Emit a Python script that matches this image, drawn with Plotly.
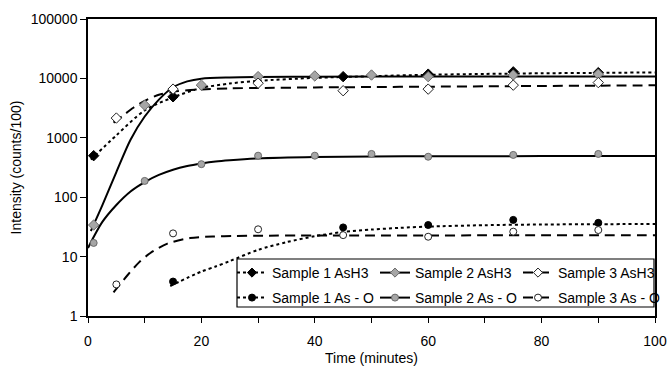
import plotly.graph_objects as go

# ---------------- data ----------------
# measured points
s1_h_t = [1, 15, 45, 60, 75, 90]
s1_h_v = [500, 4900, 10700, 11800, 12900, 12500]

s2_h_t = [1, 10, 20, 30, 40, 50, 60, 75, 90]
s2_h_v = [34, 3550, 7700, 10700, 11000, 11400, 10700, 11400, 11800]

s3_h_t = [5, 15, 30, 45, 60, 75, 90]
s3_h_v = [2150, 6600, 8300, 6200, 6600, 7700, 8500]

s1_o_t = [15, 45, 60, 75, 90]
s1_o_v = [3.8, 31, 34, 41.5, 37]

s2_o_t = [1, 10, 20, 30, 40, 50, 60, 75, 90]
s2_o_v = [17, 188, 360, 500, 500, 535, 480, 515, 535]

s3_o_t = [5, 15, 30, 45, 60, 75, 90]
s3_o_v = [3.4, 24.6, 28.8, 23, 21.6, 26.3, 28]

# fitted curves
f1_h_t = [0.5, 5, 10, 15, 20, 25, 30, 40, 50, 60, 70, 80, 90, 100]
f1_h_v = [430, 1100, 2900, 4800, 6900, 8200, 9100, 10200, 10900, 11500, 11900, 12200, 12400, 12600]

f2_h_t = [0.5, 2.5, 5, 7.5, 10, 12.5, 15, 17.5, 20, 25, 30, 40, 60, 80, 100]
f2_h_v = [27, 72, 265, 930, 2280, 4400, 7100, 8900, 9900, 10400, 10600, 10700, 10750, 10800, 10800]

f3_h_t = [4.5, 6, 8, 10, 12.5, 15, 17.5, 20, 25, 30, 40, 50, 60, 70, 80, 90, 100]
f3_h_v = [1800, 2300, 3200, 4200, 5300, 5950, 6300, 6500, 6800, 6900, 7050, 7150, 7250, 7350, 7450, 7550, 7650]

f1_o_t = [14.5, 20, 22.5, 25, 30, 35, 40, 45, 50, 55, 60, 70, 80, 90, 100]
f1_o_v = [3.2, 5.6, 6.8, 8.4, 13, 17.5, 22, 26, 28.5, 30.5, 32, 33.8, 34.7, 35.1, 35.4]

f2_o_t = [0, 2.5, 5, 7.5, 10, 12.5, 15, 17.5, 20, 22.5, 25, 30, 40, 50, 60, 80, 100]
f2_o_v = [14, 38, 74, 125, 180, 237, 290, 335, 370, 400, 420, 450, 475, 485, 488, 492, 495]

f3_o_t = [4.5, 7, 9, 11, 14, 18, 22, 26, 30, 40, 50, 60, 70, 80, 90, 100]
f3_o_v = [2.5, 4.9, 8.0, 11.5, 16.5, 20.5, 21.8, 22.3, 22.5, 22.6, 22.7, 22.7, 22.8, 22.8, 22.8, 22.8]

labels = ["Sample 1 AsH3", "Sample 2 AsH3", "Sample 3 AsH3",
          "Sample 1 As - O", "Sample 2 As - O", "Sample 3 As - O"]

x_tickvals = [0, 10, 20, 30, 40, 50, 60, 70, 80, 90, 100]
x_ticktext = ["0", "", "20", "", "40", "", "60", "", "80", "", "100"]
y_tickvals = [1, 10, 100, 1000, 10000, 100000]
y_ticktext = ["1", "10", "100", "1000", "10000", "100000"]

# ---------------- styles ----------------
DOT = "dot"
DASH = "10px,6px"
SOLID = "solid"
GRAY = "#a6a6a6"
GRAY_EDGE = "#6a6a6a"

series = [
    (s1_h_t, s1_h_v, f1_h_t, f1_h_v, DOT, "diamond", "black", "black", labels[0], "legend"),
    (s2_h_t, s2_h_v, f2_h_t, f2_h_v, SOLID, "diamond", GRAY, GRAY_EDGE, labels[1], "legend"),
    (s3_h_t, s3_h_v, f3_h_t, f3_h_v, DASH, "diamond", "white", "#222", labels[2], "legend"),
    (s1_o_t, s1_o_v, f1_o_t, f1_o_v, DOT, "circle", "black", "black", labels[3], "legend2"),
    (s2_o_t, s2_o_v, f2_o_t, f2_o_v, SOLID, "circle", GRAY, GRAY_EDGE, labels[4], "legend2"),
    (s3_o_t, s3_o_v, f3_o_t, f3_o_v, DASH, "circle", "white", "#222", labels[5], "legend2"),
]

fig = go.Figure()

# fitted curves
for mt, mv, ft, fv, dash, sym, fill, edge, lab, leg in series:
    fig.add_trace(go.Scatter(
        x=ft, y=fv, mode="lines", showlegend=False, hoverinfo="skip",
        line=dict(color="black", width=2, dash=dash, shape="spline", smoothing=0.8)))

# measured points
for mt, mv, ft, fv, dash, sym, fill, edge, lab, leg in series:
    size = 8 if sym == "diamond" else 7
    fig.add_trace(go.Scatter(
        x=mt, y=mv, mode="markers", showlegend=False, name=lab,
        marker=dict(symbol=sym, size=size, color=fill, line=dict(color=edge, width=1))))

# legend entries (line + marker)
for mt, mv, ft, fv, dash, sym, fill, edge, lab, leg in series:
    fig.add_trace(go.Scatter(
        x=[None], y=[None], mode="lines+markers", name=lab, legend=leg,
        line=dict(color="black", width=2, dash=dash),
        marker=dict(symbol=sym, size=7, color=fill, line=dict(color=edge, width=1))))

FONT = "Liberation Sans, Arial, sans-serif"

# plot area in px: x 88..655, y 19..316
PL, PR, PT, PB = 88, 655, 19, 316
W, H = 669, 368

def px2paper_x(px):
    return (px - PL) / (PR - PL)

def px2paper_y(py):
    return (PB - py) / (PB - PT)

legend_common = dict(
    orientation="h", xanchor="left", yanchor="top",
    bgcolor="rgba(0,0,0,0)", borderwidth=0,
    entrywidth=98, entrywidthmode="pixels", font=dict(size=14),
    itemwidth=30, tracegroupgap=0,
)

fig.update_layout(
    width=W, height=H,
    margin=dict(l=PL, r=W - PR, t=PT, b=H - PB, autoexpand=False),
    paper_bgcolor="white", plot_bgcolor="white",
    font=dict(family=FONT, size=14, color="black"),
    xaxis=dict(
        range=[0, 100], tickvals=x_tickvals, ticktext=x_ticktext,
        ticks="outside", ticklen=5, tickwidth=1, tickcolor="black",
        showline=True, linecolor="black", linewidth=1.5, mirror=True,
        showgrid=False, zeroline=False, automargin=False,
        ticklabelstandoff=6,
        title=dict(text="Time (minutes)", font=dict(size=14), standoff=6),
        tickfont=dict(size=14),
    ),
    yaxis=dict(
        type="log", range=[0, 5], tickvals=y_tickvals, ticktext=y_ticktext,
        ticks="outside", ticklen=6, tickwidth=1, tickcolor="black",
        showline=True, linecolor="black", linewidth=1.5, mirror=True,
        showgrid=False, zeroline=False, automargin=False,
        title=dict(text="Intensity (counts/100)", font=dict(size=14), standoff=6),
        tickfont=dict(size=14),
    ),
    legend=dict(x=px2paper_x(232), y=px2paper_y(257), **legend_common),
    legend2=dict(x=px2paper_x(232), y=px2paper_y(282), **legend_common),
    shapes=[dict(
        type="rect", xref="paper", yref="paper",
        x0=px2paper_x(237), x1=px2paper_x(654),
        y0=px2paper_y(307), y1=px2paper_y(259),
        line=dict(color="black", width=1.2), fillcolor="white", layer="above",
    )],
)

fig.write_html("out.html", config={"displayModeBar": False},
               post_script="document.body.style.margin='0';")
